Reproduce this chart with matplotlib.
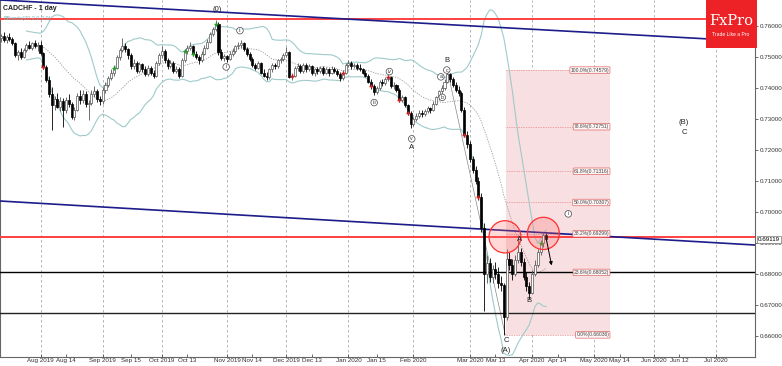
import numpy as np
import pandas as pd
import matplotlib
matplotlib.use("Agg")
import matplotlib.pyplot as plt
from matplotlib.patches import Ellipse, Rectangle

plt.rcParams['font.family'] = ['Liberation Sans', 'DejaVu Sans']

# Daily CADCHF candles, prices in 1e-4 units (first bar = 2019-07-12)
opens = [7560, 7568, 7555, 7565, 7558, 7545, 7508, 7515, 7500, 7522, 7538, 7530, 7545, 7536, 7540, 7512, 7468, 7426, 7380, 7345,
         7365, 7340, 7358, 7328, 7362, 7350, 7308, 7330, 7375, 7360, 7382, 7348, 7352, 7380, 7390, 7365, 7358, 7395, 7410, 7432,
         7450, 7466, 7500, 7522, 7535, 7525, 7505, 7470, 7482, 7455, 7476, 7460, 7445, 7466, 7450, 7440, 7480, 7505, 7520, 7490,
         7470, 7482, 7455, 7462, 7440, 7490, 7518, 7530, 7535, 7510, 7500, 7490, 7510, 7530, 7550, 7575, 7590, 7605, 7516, 7497,
         7502, 7495, 7510, 7520, 7535, 7540, 7545, 7525, 7510, 7495, 7475, 7465, 7480, 7450, 7440, 7435, 7460, 7475, 7470, 7490,
         7495, 7505, 7515, 7436, 7440, 7465, 7470, 7455, 7475, 7460, 7470, 7450, 7460, 7455, 7465, 7450, 7460, 7448, 7462, 7455,
         7445, 7432, 7450, 7475, 7480, 7470, 7475, 7465, 7460, 7450, 7440, 7420, 7405, 7387, 7400, 7420, 7415, 7430, 7436, 7405,
         7410, 7395, 7362, 7370, 7345, 7320, 7285, 7300, 7310, 7320, 7316, 7325, 7335, 7330, 7350, 7370, 7390, 7400, 7420, 7445,
         7430, 7410, 7395, 7385, 7330, 7250, 7220, 7170, 7135, 7100, 7050, 6950, 6800, 6835, 6790, 6815, 6800, 6770, 6765, 6660,
         6850, 6830, 6800, 6845, 6870, 6840, 6790, 6760, 6740, 6800, 6830, 6870, 6900, 6925]
highs = [7575, 7580, 7572, 7578, 7566, 7550, 7522, 7530, 7528, 7545, 7552, 7550, 7556, 7548, 7552, 7515, 7475, 7440, 7402, 7375,
         7385, 7372, 7368, 7370, 7380, 7356, 7340, 7385, 7392, 7395, 7390, 7360, 7392, 7405, 7398, 7375, 7402, 7418, 7440, 7460,
         7475, 7508, 7530, 7561, 7545, 7530, 7512, 7492, 7488, 7485, 7482, 7470, 7475, 7472, 7458, 7488, 7512, 7535, 7525, 7498,
         7490, 7486, 7472, 7468, 7496, 7525, 7540, 7548, 7540, 7518, 7506, 7518, 7538, 7558, 7580, 7598, 7620, 7612, 7525, 7510,
         7508, 7518, 7528, 7540, 7548, 7555, 7550, 7532, 7515, 7500, 7482, 7488, 7485, 7462, 7452, 7465, 7482, 7480, 7495, 7500,
         7512, 7532, 7520, 7450, 7472, 7480, 7476, 7482, 7480, 7478, 7474, 7466, 7468, 7472, 7470, 7468, 7465, 7470, 7468, 7460,
         7452, 7458, 7482, 7490, 7486, 7482, 7480, 7478, 7466, 7458, 7445, 7428, 7412, 7408, 7425, 7428, 7435, 7442, 7440, 7418,
         7414, 7400, 7378, 7375, 7350, 7325, 7305, 7318, 7328, 7330, 7332, 7342, 7340, 7358, 7375, 7395, 7410, 7430, 7458, 7450,
         7436, 7418, 7405, 7390, 7338, 7262, 7230, 7182, 7150, 7112, 7060, 6965, 6860, 6852, 6830, 6840, 6822, 6795, 6772, 6880,
         6872, 6848, 6860, 6926, 6885, 6852, 6808, 6775, 6812, 6845, 6880, 6910, 6935, 6932]
lows = [7548, 7550, 7545, 7552, 7538, 7500, 7490, 7495, 7496, 7515, 7525, 7522, 7530, 7520, 7505, 7460, 7418, 7370, 7265, 7330,
        7335, 7325, 7275, 7320, 7340, 7300, 7298, 7325, 7350, 7352, 7340, 7297, 7345, 7372, 7355, 7345, 7350, 7385, 7402, 7425,
        7440, 7460, 7490, 7515, 7515, 7495, 7462, 7460, 7448, 7450, 7452, 7438, 7440, 7442, 7432, 7436, 7475, 7498, 7482, 7462,
        7465, 7448, 7450, 7432, 7436, 7485, 7510, 7522, 7502, 7492, 7478, 7485, 7505, 7525, 7545, 7568, 7585, 7508, 7490, 7488,
        7485, 7490, 7502, 7512, 7525, 7530, 7518, 7502, 7488, 7468, 7458, 7460, 7445, 7435, 7426, 7430, 7452, 7462, 7465, 7480,
        7488, 7500, 7432, 7425, 7435, 7455, 7448, 7450, 7452, 7455, 7442, 7440, 7445, 7448, 7442, 7444, 7440, 7444, 7448, 7438,
        7422, 7425, 7445, 7468, 7462, 7464, 7458, 7455, 7445, 7435, 7415, 7398, 7377, 7382, 7395, 7405, 7410, 7422, 7400, 7398,
        7388, 7355, 7355, 7338, 7312, 7271, 7278, 7292, 7302, 7308, 7310, 7318, 7320, 7325, 7345, 7362, 7380, 7395, 7415, 7420,
        7402, 7388, 7375, 7322, 7242, 7205, 7160, 7125, 7090, 7040, 6935, 6680, 6770, 6775, 6772, 6785, 6755, 6745, 6604, 6652,
        6812, 6780, 6792, 6835, 6825, 6780, 6745, 6720, 6735, 6792, 6822, 6860, 6888, 6905]
closes = [7568, 7555, 7565, 7558, 7545, 7508, 7515, 7500, 7522, 7538, 7530, 7545, 7536, 7540, 7512, 7468, 7426, 7380, 7345, 7365,
          7340, 7358, 7328, 7362, 7350, 7308, 7330, 7375, 7360, 7382, 7348, 7352, 7380, 7390, 7365, 7358, 7395, 7410, 7432, 7450,
          7466, 7500, 7522, 7535, 7525, 7505, 7470, 7482, 7455, 7476, 7460, 7445, 7466, 7450, 7440, 7480, 7505, 7520, 7490, 7470,
          7482, 7455, 7462, 7440, 7490, 7518, 7530, 7535, 7510, 7500, 7490, 7510, 7530, 7550, 7575, 7590, 7605, 7516, 7497, 7502,
          7495, 7510, 7520, 7535, 7540, 7545, 7525, 7510, 7495, 7475, 7465, 7480, 7450, 7440, 7435, 7460, 7475, 7470, 7490, 7495,
          7505, 7515, 7436, 7440, 7465, 7470, 7455, 7475, 7460, 7470, 7450, 7460, 7455, 7465, 7450, 7460, 7448, 7462, 7455, 7445,
          7432, 7450, 7475, 7480, 7470, 7475, 7465, 7460, 7450, 7440, 7420, 7405, 7387, 7400, 7420, 7415, 7430, 7436, 7405, 7410,
          7395, 7362, 7370, 7345, 7320, 7285, 7300, 7310, 7320, 7316, 7325, 7335, 7330, 7350, 7370, 7390, 7400, 7420, 7445, 7430,
          7410, 7395, 7385, 7330, 7250, 7220, 7170, 7135, 7100, 7050, 6950, 6800, 6835, 6790, 6815, 6800, 6770, 6765, 6660, 6850,
          6830, 6800, 6845, 6870, 6840, 6790, 6760, 6740, 6800, 6830, 6870, 6900, 6925, 6912]

red_signals = [15, 103, 121, 131, 137, 141, 144, 164, 169]
green_signals = [40, 65, 68, 76, 191]

# Drawn levels and trend lines
resistance_top = 0.76226
resistance_mid = 0.6920
support_1 = 0.68065
support_2 = 0.66742
channel_top = [0.7684, 0.7550]
channel_low = [0.70355, 0.68935]
last_price = 0.69119
fib_high, fib_low = 0.74579, 0.66036
fib_ratios = [1.0, 0.786, 0.618, 0.5, 0.382, 0.236, 0.0]

month_ticks = ["2019-08", "2019-09", "2019-10", "2019-11", "2019-12", "2020-01",
               "2020-02", "2020-03", "2020-04", "2020-05", "2020-06", "2020-07"]
mid_ticks = ["2019-08-14", "2019-09-15", "2019-10-13", "2019-11-14", "2019-12-13",
             "2020-01-15", "2020-03-13", "2020-04-14", "2020-05-14", "2020-06-12"]

o = np.array(opens) / 1e4
h = np.array(highs) / 1e4
l = np.array(lows) / 1e4
c = np.array(closes) / 1e4
x = np.arange(len(c))
dates = pd.bdate_range("2019-07-12", periods=300)

fig = plt.figure(figsize=(7.82, 3.66), dpi=100)
ax = fig.add_axes([0, 9 / 366, 755 / 782, 1 - 9 / 366])
ax.set_xlim(-0.34, 266.9)
ax.set_ylim(0.65323, 0.76839)

# month grid
month_pos = [dates.searchsorted(pd.Timestamp(m + "-01")) for m in month_ticks]
for p in month_pos:
    ax.axvline(p, color="#aaaaaa", lw=0.6, ls=(0, (3, 3)), zorder=0)

# fibonacci box
fx0, fx1 = 178.8, 215.6
ax.add_patch(Rectangle((fx0, fib_low), fx1 - fx0, fib_high - fib_low,
                       facecolor="#f8dfe1", edgecolor="none", zorder=0.5))
for r in fib_ratios:
    lev = fib_low + r * (fib_high - fib_low)
    ax.hlines(lev, fx0, fx1, colors="#e58a8a", lw=0.5, linestyles=(0, (2, 1.5)), zorder=1)
    ax.text(fx1 - 0.3, lev, f"{r * 100:.1f}%({lev:.5f})", ha="right", va="center",
            fontsize=3.6, color="#444444", zorder=6,
            bbox=dict(boxstyle="round,pad=0.15", fc="#fff6f6", ec="#e06666", lw=0.5))
ax.plot([158, 178.5], [fib_high, fib_low], color="#888888", lw=0.5, zorder=2)

# bollinger bands
s = pd.Series(c)
mid = s.rolling(20, min_periods=10).mean()
sd = s.rolling(20, min_periods=10).std(ddof=0)
ax.plot(x, mid + 2 * sd, color="#9fcaca", lw=0.8, zorder=2)
ax.plot(x, mid - 2 * sd, color="#9fcaca", lw=0.8, zorder=2)
ax.plot(x, mid, color="#999999", lw=0.6, ls=(0, (1.5, 1.5)), zorder=2)

# horizontal levels and channel
ax.axhline(resistance_top, color="#ff4040", lw=1.4, zorder=3)
ax.axhline(resistance_mid, color="#ff4040", lw=1.4, zorder=3)
ax.axhline(support_1, color="black", lw=1.0, zorder=3)
ax.axhline(support_2, color="#222222", lw=1.0, zorder=3)
ax.plot([-0.34, 266.9], channel_top, color="#1c1c8a", lw=1.2, zorder=3)
ax.plot([-0.34, 266.9], channel_low, color="#1c1c8a", lw=1.2, zorder=3)

# candles
up = c >= o
wick_col = np.where(up, "#555555", "black")
ax.vlines(x, l, h, colors=wick_col, lw=0.6, zorder=4)
body = np.maximum(np.abs(c - o), 0.00015)
ax.bar(x, body, bottom=np.minimum(o, c), width=0.72,
       color=np.where(up, "white", "black"), edgecolor=wick_col, linewidth=0.5, zorder=5)

ax.plot(x[red_signals], c[red_signals], "+", color="#d02020", ms=3.5, mew=1.0, zorder=6)
ax.plot(x[green_signals], c[green_signals], "+", color="#20a020", ms=3.5, mew=1.0, zorder=6)

# red circles and arrow
for cx, cy in [(178.4, 0.6920), (192.0, 0.6931)]:
    ax.add_patch(Ellipse((cx, cy), 11.3, 0.0104, facecolor=(1, 0.4, 0.4, 0.25),
                         edgecolor="#ff3030", lw=0.9, zorder=6))
ax.annotate("", xy=(195.1, 0.6819), xytext=(192.9, 0.6919),
            arrowprops=dict(arrowstyle="-|>", color="black", lw=0.7, mutation_scale=5), zorder=7)

# wave labels
def circled(xp, yp, t):
    ax.text(xp, yp, t, fontsize=3.8, ha="center", va="center", color="#333333", zorder=8,
            bbox=dict(boxstyle="circle,pad=0.15", fc="white", ec="#444444", lw=0.5))

circled(79.7, 0.7468, "i")
circled(84.6, 0.7585, "ii")
circled(132.1, 0.7353, "iii")
circled(137.5, 0.7453, "iv")
circled(145.4, 0.7236, "v")
circled(155.7, 0.7436, "a")
circled(156.2, 0.7370, "b")
circled(157.8, 0.7458, "c")
circled(200.8, 0.6994, "i")
for xp, yp, t in [(76.5, 0.7652, "(0)"), (145.4, 0.7207, "A"), (157.8, 0.7488, "B"),
                  (183.7, 0.6912, "A"), (186.9, 0.6713, "B"), (179.0, 0.6587, "C"),
                  (178.8, 0.6553, "(A)"), (241.8, 0.7288, "(B)"), (241.8, 0.7257, "C")]:
    ax.text(xp, yp, t, fontsize=5.5, ha="center", va="center", color="#222222", zorder=8)

# axes
for sp in ["top"]:
    ax.spines[sp].set_visible(False)
for sp in ["left", "right", "bottom"]:
    ax.spines[sp].set_color("#666666")
    ax.spines[sp].set_linewidth(0.8)
ax.yaxis.tick_right()
ax.set_yticks(np.arange(0.66, 0.7601, 0.01))
ax.set_yticklabels([f"{v:.5f}" for v in np.arange(0.66, 0.7601, 0.01)])
ax.tick_params(axis="y", labelsize=4.5, length=2, width=0.5, pad=1.5, colors="#333333")

mid_pos = [dates.searchsorted(pd.Timestamp(d)) for d in mid_ticks]
xt = month_pos + mid_pos
xl = [pd.Timestamp(m + "-01").strftime("%b %Y") for m in month_ticks] + \
     [f"{pd.Timestamp(d):%b} {pd.Timestamp(d).day}" for d in mid_ticks]
ax.set_xticks(xt)
ax.set_xticklabels(xl)
ax.tick_params(axis="x", labelsize=4.5, length=2, width=0.5, pad=0.5, direction="in", colors="#333333")

ax.annotate(f"{last_price:.5f}", xy=(1.0, last_price), xycoords=("axes fraction", "data"),
            xytext=(2, 0), textcoords="offset points", fontsize=4.5, va="center", ha="left",
            bbox=dict(boxstyle="square,pad=0.15", fc="white", ec="#777777", lw=0.5),
            annotation_clip=False, zorder=9)

ax.text(0.004, 0.985, "CADCHF - 1 day", transform=ax.transAxes, fontsize=5, fontweight="bold",
        va="top", ha="left", color="#222222")
ax.text(0.004, 0.955, "BBands(20,2.0,3.0)", transform=ax.transAxes, fontsize=4,
        va="top", ha="left", color="#7fb5b5")

# logo
fig.add_artist(Rectangle((706 / 782, 1 - 48 / 366), 51 / 782, 48 / 366, transform=fig.transFigure,
                         facecolor="#ec2227", edgecolor="none", zorder=10))
fig.text(731 / 782, 1 - 21 / 366, "FxPro", color="white", fontsize=10.5, family="DejaVu Serif",
         ha="center", va="center", zorder=11)
fig.text(731 / 782, 1 - 35 / 366, "Trade Like a Pro", color="white", fontsize=3.6,
         ha="center", va="center", zorder=11)

fig.savefig("out.png", dpi=100)
